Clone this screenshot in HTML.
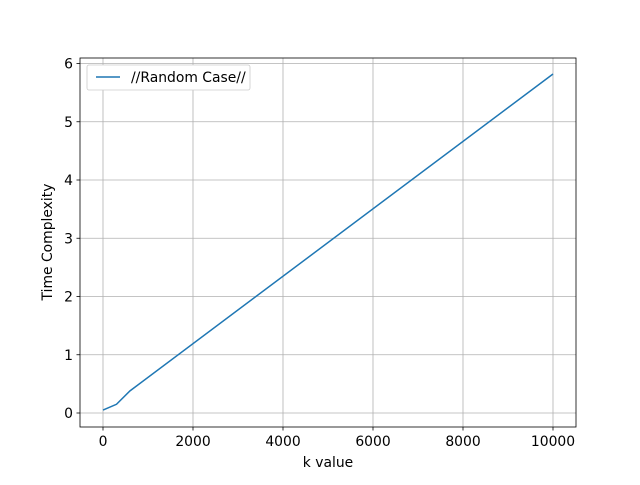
<!DOCTYPE html>
<html><head><meta charset="utf-8"><style>
body{margin:0;background:#fff;}
svg text{font-family:"DejaVu Sans","Liberation Sans",sans-serif;font-size:13.9px;fill:#000;}
</style></head><body>
<svg id="chart" width="640" height="480">
<rect x="0" y="0" width="640" height="480" fill="#fff"/>
<g id="grid"></g>
<g id="ticks"></g>
<polyline id="series" fill="none" stroke="#1f77b4" stroke-width="1.5"/>
<rect x="80" y="58" width="496" height="369" fill="none" stroke="#000" stroke-width="0.8"/>
<text x="328" y="467" text-anchor="middle">k value</text>
<text transform="translate(52,242) rotate(-90)" text-anchor="middle">Time Complexity</text>
<g>
<rect x="87" y="65" width="163" height="25" rx="2" fill="#fff" stroke="#ccc" stroke-width="0.8"/>
<line x1="96" y1="77" x2="120" y2="77" stroke="#1f77b4" stroke-width="1.5"/>
<text x="131" y="82">//Random Case//</text>
</g>
</svg>
<script>
const xs = [0, 300, 600, 10000];
const ys = [0.05, 0.15, 0.38, 5.82];
const xTicks = [0, 2000, 4000, 6000, 8000, 10000];
const yTicks = [0, 1, 2, 3, 4, 5, 6];
function sx(v){return 103 + v*0.045;}
function sy(v){return 413 - v*58.25;}
const NS="http://www.w3.org/2000/svg";
const grid=document.getElementById('grid'), ticks=document.getElementById('ticks');
function mk(tag,attrs,parent){const e=document.createElementNS(NS,tag);for(const k in attrs)e.setAttribute(k,attrs[k]);parent.appendChild(e);return e;}
xTicks.forEach(t=>{
  const x=sx(t);
  const g=mk('line',{x1:x,y1:58,x2:x,y2:427,stroke:'#b0b0b0','stroke-width':0.8},grid);
  
  
  const tk=mk('line',{x1:x,y1:427,x2:x,y2:430.5,stroke:'#000','stroke-width':0.8},ticks);
  
  
  const tx=mk('text',{x:x,y:446,'text-anchor':'middle'},ticks);
  tx.textContent=t;
  
  
});
yTicks.forEach(t=>{
  const y=sy(t);
  const g=mk('line',{x1:80,y1:y,x2:576,y2:y,stroke:'#b0b0b0','stroke-width':0.8},grid);
  
  
  const tk=mk('line',{x1:76.5,y1:y,x2:80,y2:y,stroke:'#000','stroke-width':0.8},ticks);
  
  
  const tx=mk('text',{x:73,y:y+5,'text-anchor':'end'},ticks);
  tx.textContent=t;
  
  
});
document.getElementById('series').setAttribute('points', xs.map((x,i)=>sx(x)+','+sy(ys[i])).join(' '));
</script>
</body></html>
